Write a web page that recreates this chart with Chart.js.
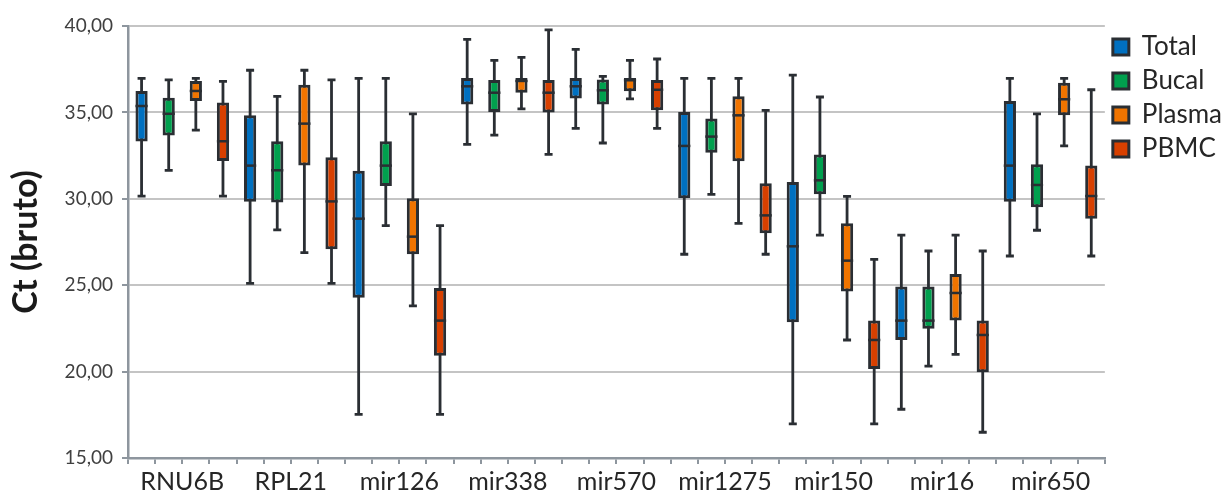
<!DOCTYPE html>
<html>
<head>
<meta charset="utf-8">
<script src="https://cdn.jsdelivr.net/npm/chart.js@4.4.1/dist/chart.umd.min.js"></script>
<style>
  html, body { margin: 0; padding: 0; background: #fff; }
</style>
</head>
<body>
<canvas id="out" width="1232" height="495"></canvas>
<script>
const genes = ['RNU6B', 'RPL21', 'mir126', 'mir338', 'mir570', 'mir1275', 'mir150', 'mir16', 'mir650'];

// each row: [min, q1, median, q3, max]
const total = [
  [30.16, 33.31, 35.37, 36.24, 36.97],
  [25.11, 29.83, 31.92, 34.83, 37.44],
  [17.53, 24.28, 28.85, 31.63, 36.97],
  [33.15, 35.45, 36.51, 36.99, 39.23],
  [34.08, 35.80, 36.51, 36.99, 38.65],
  [26.79, 30.03, 33.06, 35.02, 36.97],
  [16.97, 22.85, 27.25, 30.97, 37.16],
  [17.82, 21.83, 22.95, 24.92, 27.90],
  [26.69, 29.83, 31.92, 35.66, 36.97]
];
const bucal = [
  [31.65, 33.67, 34.92, 35.85, 36.88],
  [28.20, 29.78, 31.65, 33.33, 35.93],
  [28.45, 30.74, 31.92, 33.33, 36.97],
  [33.69, 35.02, 36.14, 36.88, 38.01],
  [33.23, 35.45, 36.28, 36.91, 37.09],
  [30.26, 32.67, 33.60, 34.64, 36.97],
  [27.90, 30.26, 31.07, 32.57, 35.89],
  [20.32, 22.48, 22.95, 24.92, 26.98],
  [28.18, 29.51, 30.80, 32.00, 34.91]
];
const plasma = [
  [33.98, 35.66, 36.24, 36.82, 36.97],
  [26.88, 31.92, 34.35, 36.60, 37.44],
  [23.80, 26.79, 27.81, 30.03, 34.91],
  [35.20, 36.14, 36.82, 36.99, 38.19],
  [35.78, 36.22, 36.86, 36.99, 38.01],
  [28.58, 32.17, 34.83, 35.93, 36.97],
  [21.83, 24.63, 26.42, 28.58, 30.14],
  [21.00, 22.95, 24.55, 25.65, 27.90],
  [33.06, 34.83, 35.76, 36.72, 36.97]
];
const pbmc = [
  [30.16, 32.19, 33.33, 35.58, 36.80],
  [25.11, 27.08, 29.85, 32.40, 36.88],
  [17.53, 20.92, 22.95, 24.84, 28.45],
  [32.57, 35.00, 36.14, 36.88, 39.77],
  [34.08, 35.12, 36.31, 36.88, 38.09],
  [26.79, 28.00, 29.04, 30.90, 35.12],
  [16.97, 20.15, 21.83, 22.95, 26.50],
  [16.49, 19.96, 22.12, 22.95, 26.98],
  [26.69, 28.85, 30.16, 31.92, 36.31]
];
const yTicks = [15, 20, 25, 30, 35, 40];

const seriesNames = ['Total', 'Bucal', 'Plasma', 'PBMC'];
const seriesStats = [total, bucal, plasma, pbmc];
const seriesColors = ['#0070c0', '#00a04e', '#f07400', '#d84000'];
const edge = '#2a2e33';
const axisGray = '#8e969e';

// whiskers behind the boxes, median lines on top
const boxWhiskers = {
  id: 'boxWhiskers',
  beforeDatasetsDraw(chart) {
    const ctx = chart.ctx;
    const y = chart.scales.y;
    chart.data.datasets.forEach((ds, i) => {
      chart.getDatasetMeta(i).data.forEach((bar, j) => {
        const s = ds.stats[j];
        const top = y.getPixelForValue(s[4]);
        const bot = y.getPixelForValue(s[0]);
        ctx.save();
        ctx.strokeStyle = edge;
        ctx.lineWidth = 2.8;
        ctx.beginPath();
        ctx.moveTo(bar.x, top);
        ctx.lineTo(bar.x, bot);
        ctx.moveTo(bar.x - 4, top);
        ctx.lineTo(bar.x + 4, top);
        ctx.moveTo(bar.x - 4, bot);
        ctx.lineTo(bar.x + 4, bot);
        ctx.stroke();
        ctx.restore();
      });
    });
  },
  afterDatasetsDraw(chart) {
    const ctx = chart.ctx;
    const y = chart.scales.y;
    chart.data.datasets.forEach((ds, i) => {
      chart.getDatasetMeta(i).data.forEach((bar, j) => {
        const med = y.getPixelForValue(ds.stats[j][2]);
        const half = bar.width / 2;
        ctx.save();
        ctx.strokeStyle = edge;
        ctx.lineWidth = 2.5;
        ctx.beginPath();
        ctx.moveTo(bar.x - half, med);
        ctx.lineTo(bar.x + half, med);
        ctx.stroke();
        ctx.restore();
      });
    });
  }
};

const datasets = seriesNames.map((name, i) => ({
  label: name,
  data: seriesStats[i].map(s => [s[1], s[3]]),
  stats: seriesStats[i],
  backgroundColor: seriesColors[i],
  borderColor: edge,
  borderWidth: 3,
  borderSkipped: false,
  barPercentage: 0.45,
  categoryPercentage: 1
}));

new Chart(document.getElementById('out').getContext('2d'), {
  type: 'bar',
  data: { labels: genes, datasets },
  plugins: [boxWhiskers],
  options: {
    responsive: false,
    animation: false,
    layout: { padding: { top: 26, right: 0, left: 0, bottom: 0 } },
    plugins: {
      tooltip: { enabled: false },
      legend: {
        position: 'right',
        align: 'start',
        labels: {
          boxWidth: 16,
          boxHeight: 16,
          padding: 8,
          color: '#262626',
          font: { family: 'Lato', size: 26 }
        }
      }
    },
    scales: {
      x: {
        type: 'category',
        offset: true,
        weight: 1,
        grid: { display: false },
        border: { display: false },
        ticks: {
          color: '#262626',
          font: { family: 'Lato', size: 25 },
          padding: -5,
          maxRotation: 0,
          autoSkip: false
        },
        afterFit: s => { s.height = 31; }
      },
      xt: {
        type: 'category',
        labels: genes.flatMap(g => seriesNames.map(() => '')),
        offset: true,
        position: 'bottom',
        weight: 0,
        grid: { drawOnChartArea: false, offset: true, tickLength: 6, color: axisGray, lineWidth: 2 },
        border: { color: axisGray, width: 2.5 },
        ticks: { display: false },
        afterFit: s => { s.height = 6; }
      },
      y: {
        min: 15,
        max: 40,
        afterBuildTicks: s => { s.ticks = yTicks.map(v => ({ value: v })); },
        ticks: {
          color: '#404040',
          font: { family: 'Lato', size: 19 },
          padding: 9,
          callback: v => v.toFixed(2).replace('.', ',')
        },
        grid: {
          color: c => (c.tick && c.tick.value === 15 ? 'rgba(0,0,0,0)' : '#c4c4c4'),
          lineWidth: 2,
          tickLength: 6,
          tickColor: axisGray
        },
        border: { color: axisGray, width: 2.5 },
        title: {
          display: true,
          text: 'Ct (bruto)',
          color: '#1a1a1a',
          font: { family: 'Lato', size: 34, weight: 'bold' },
          padding: { top: 6, bottom: 0 }
        },
        afterFit: s => { s.width = 128; }
      }
    }
  }
});
</script>
</body>
</html>
